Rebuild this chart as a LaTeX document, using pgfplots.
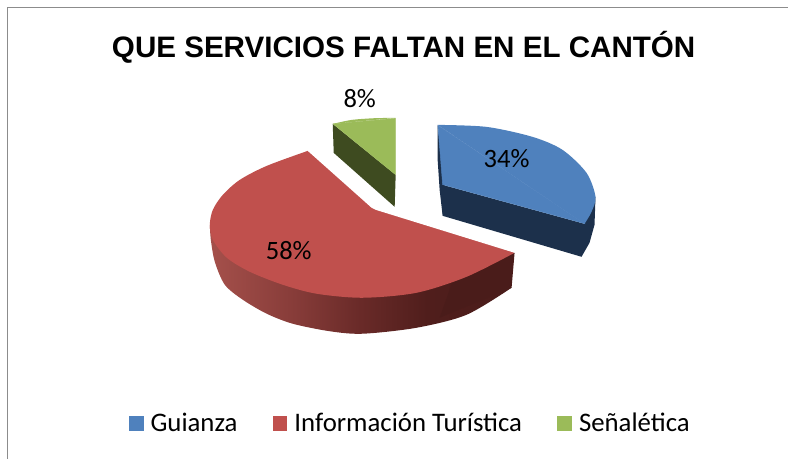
\documentclass[border=0pt]{standalone}
\usepackage{pgfplots}
\pgfplotsset{compat=1.18}
\usepackage{fontspec}
\setmainfont{Carlito}
\newfontfamily\titlefont{Liberation Sans}
\definecolor{cblue}{RGB}{79,129,189}
\definecolor{cblued}{RGB}{28,48,75}
\definecolor{cred}{RGB}{192,80,77}
\definecolor{cgreen}{RGB}{155,187,89}
\definecolor{cgreend}{RGB}{62,75,32}
\definecolor{cframe}{RGB}{140,140,140}
\definecolor{rs0}{RGB}{165,80,75}
\definecolor{rs1}{RGB}{135,60,57}
\definecolor{rs2}{RGB}{105,42,40}
\definecolor{rs3}{RGB}{80,30,28}
\definecolor{rs4}{RGB}{74,28,26}
\pgfdeclarehorizontalshading{redside}{100bp}{color(0bp)=(rs0); color(25bp)=(rs0); color(39bp)=(rs1); color(50bp)=(rs2); color(61bp)=(rs3); color(75bp)=(rs4); color(100bp)=(rs4)}
\begin{document}
\begin{tikzpicture}
\begin{axis}[
  width=789pt,height=459pt,scale only axis,
  xmin=0,xmax=789,ymin=0,ymax=459,y dir=reverse,
  hide axis,clip=false,
  legend columns=3,
  legend style={draw=none,fill=none,at={(axis cs:410.5,423.5)},anchor=center,
    font=\fontsize{26.8}{26.8}\selectfont,
    /tikz/every even column/.append style={column sep=33pt},
    /tikz/every odd column/.append style={column sep=5pt},
    inner sep=0pt,outer sep=0pt,cells={anchor=west}},
  legend image code/.code={\fill[#1] (0pt,-7.5pt) rectangle (15pt,7.5pt);},
]
% page extent
\addplot[draw=none,forget plot] coordinates {(0,0) (789,459)};
% chart frame
\addplot[cframe,line width=1.3pt,forget plot] coordinates {(7.5,459) (7.5,7.5) (789,7.5)};
% red side (58%)
\addplot[draw=none,shading=redside,smooth,forget plot] coordinates {(210,225) (211,240) (215,262) (225,285) (243,300) (267,314) (293,324) (330,331.5) (363,334) (417,328) (467,315) (512,288)};
\addplot[draw=none,fill=rs4,forget plot] coordinates {(512,288) (515,253) (460,262) (440,318)};
% red top: the whole arc, then the gap between its two cut edges
\addplot[draw=none,fill=cred,smooth,forget plot] coordinates {(308,151) (267,166) (240,180) (223,195) (213,210) (210,225) (213,240) (227,258) (250,272) (283,285) (317,294) (363,298) (417,293) (467,277) (515,253)};
\addplot[draw=none,fill=white,forget plot] coordinates {(308,151) (372,208) (376,210) (515,253) (515,240) (320,140)};
% green side (8%)
\addplot[draw=none,fill=cgreend,forget plot] coordinates {(333,124) (396,175) (395,207) (334,153)};
% blue side (34%)
\addplot[draw=none,fill=cblued,forget plot] coordinates {(443,185) (443,216) (582,257) (590,243) (595,225) (596,197) (585,224)};
\addplot[draw=none,fill=cblued,forget plot] coordinates {(438,125) (438,160) (440,190) (443,216) (445,185)};
% blue top
\addplot[draw=none,fill=cblue,smooth,forget plot] coordinates {(438,125) (487,127) (533,137) (563,150) (587,173) (596,197) (592,212) (585,224)};
\addplot[draw=cblue,line width=0.5pt,fill=cblue,forget plot] coordinates {(438.3,125.5) (443,184.7) (584.6,223.6) (438.3,125.5)};
% green top
\addplot[draw=none,fill=cgreen,smooth,forget plot] coordinates {(333,124) (352,120) (375,118.3) (396,118)};
\addplot[draw=cgreen,line width=0.5pt,fill=cgreen,forget plot] coordinates {(333.5,124) (395.6,174.5) (395.6,118.5) (333.5,124)};
% legend
\addlegendimage{draw=none,fill=cblue}
\addlegendentry{Guianza}
\addlegendimage{draw=none,fill=cred}
\addlegendentry{Información Turística}
\addlegendimage{draw=none,fill=cgreen}
\addlegendentry{Señalética}
% data labels (34, 58, 8 per cent) and title
\node[font=\fontsize{26.5}{26.5}\selectfont] at (axis cs:507,159) {34\%};
\node[font=\fontsize{26.5}{26.5}\selectfont] at (axis cs:289,251) {58\%};
\node[font=\fontsize{26.5}{26.5}\selectfont] at (axis cs:360,99) {8\%};
\node[font=\fontsize{29.6}{29.6}\selectfont\bfseries\titlefont] at (axis cs:404,47) {QUE SERVICIOS FALTAN EN EL CANTÓN};
\end{axis}
\end{tikzpicture}
\end{document}
